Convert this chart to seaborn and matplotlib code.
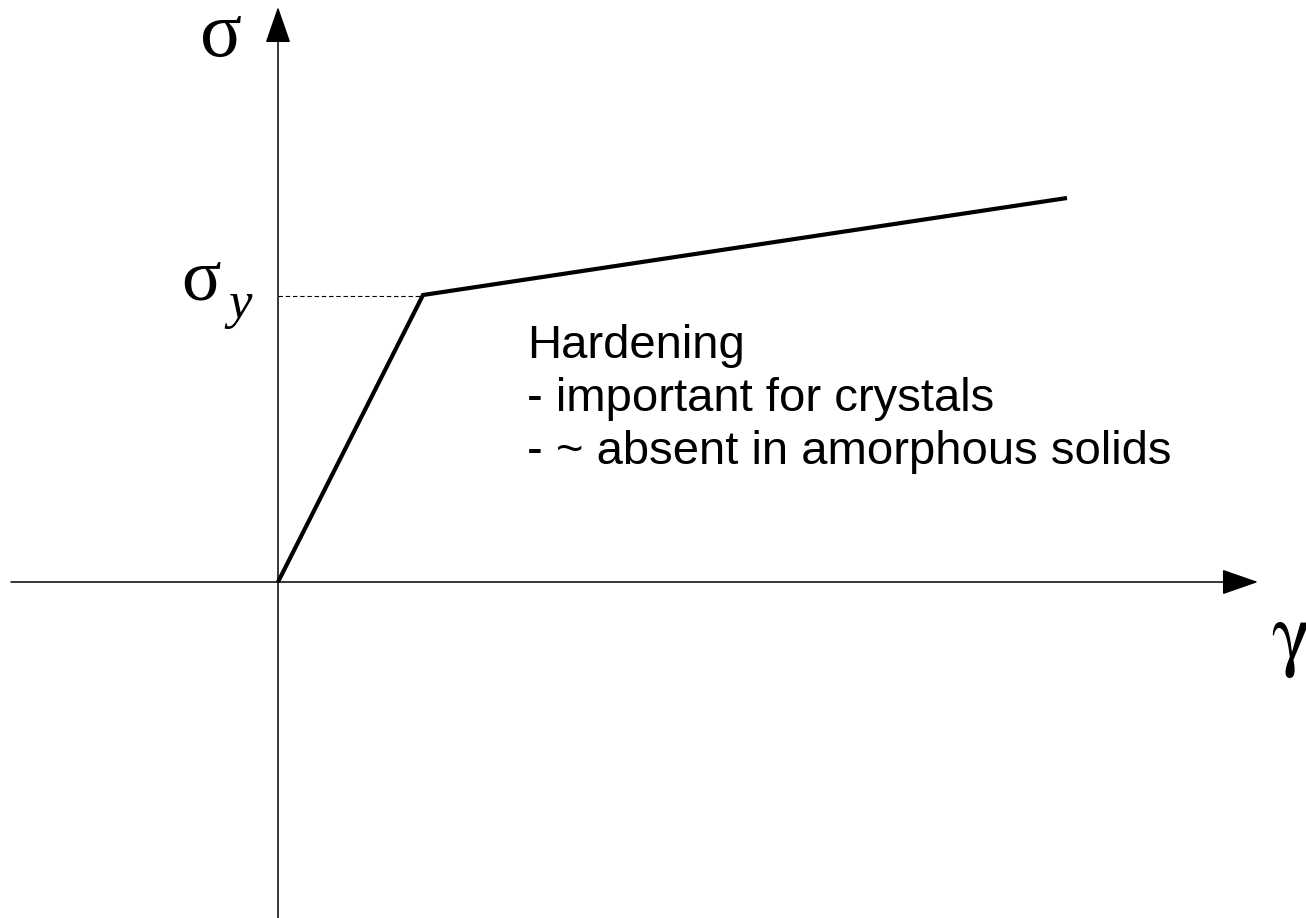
import seaborn as sns
import matplotlib.pyplot as plt
import numpy as np

# strain / stress values of the sketch (1 unit = 100 px)
strain = [0.0, 1.45, 7.89]
stress = [0.0, 2.87, 3.84]
sigma_y = 2.86

note_lines = ["Hardening",
              "- important for crystals",
              "- ~ absent in amorphous solids"]

sns.set_style("white")

fig = plt.figure(figsize=(13.06, 9.18), dpi=100)
ax = fig.add_axes([0, 0, 1, 1])
ax.set_xlim(-2.78, 10.28)
ax.set_ylim(-3.36, 5.82)
ax.axis("off")

# axes with arrow heads
arrow = dict(arrowstyle="-|>,head_length=23,head_width=8", mutation_scale=1,
             color="black", lw=1.1, shrinkA=0, shrinkB=0)
ax.annotate("", xy=(9.80, 0), xytext=(-2.67, 0), arrowprops=arrow)
ax.annotate("", xy=(0, 5.75), xytext=(0, -3.40), arrowprops=arrow)

# stress-strain curve
sns.lineplot(x=strain, y=stress, color="black", lw=3, ax=ax,
             solid_joinstyle="miter", solid_capstyle="butt")

# yield stress guide
ax.plot([0, strain[1]], [sigma_y, sigma_y], color="black", lw=0.8,
        dashes=(4, 2.5))

serif = ["Liberation Serif", "DejaVu Serif"]
stix = ["STIXGeneral", "Liberation Serif"]  # looped gamma like Times
ax.text(-0.57, 5.26, "σ", fontsize=56, family=serif, color="black",
        ha="center", va="baseline")
ax.text(-0.77, 2.83, "σ", fontsize=53, family=serif, color="black",
        ha="center", va="baseline")
ax.text(-0.50, 2.64, "y", fontsize=38, family=serif, style="italic",
        color="black", ha="left", va="baseline")
ax.text(9.93, -0.78, "γ", fontsize=60, family=stix, color="black",
        ha="left", va="baseline")

for i, line in enumerate(note_lines):
    ax.text(2.49, 2.24 - 0.53 * i, line, fontsize=34, family="Liberation Sans",
            color="black", ha="left", va="baseline")

plt.savefig("out.png", dpi=100)
